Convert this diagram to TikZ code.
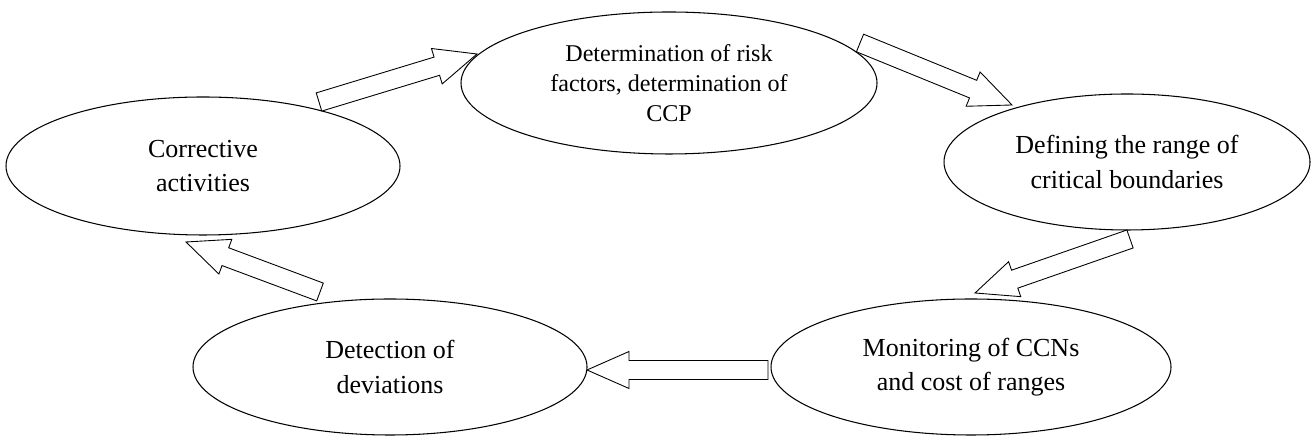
\documentclass[tikz,border=0pt]{standalone}
\usepackage{fontspec}
\setmainfont{Liberation Serif}
\usetikzlibrary{calc,shapes.geometric}

\begin{document}
\begin{tikzpicture}[
	stage/.style={draw,ellipse,line width=.6pt,inner sep=0pt,align=center,
		font=\fontsize{14.8}{19.5}\selectfont},
	blockarr/.style={draw,fill=white,line width=.5pt,line join=miter}]
	\useasboundingbox (0,0) rectangle (26.22,8.76);
	% the five stages of the cycle
	\node[stage,minimum width=8.32cm,minimum height=2.84cm,
		font=\fontsize{13.7}{17.2}\selectfont] (risk) at (13.38,7.10)
		{Determination of risk\\factors, determination of\\CCP};
	\node[stage,minimum width=7.32cm,minimum height=2.72cm] (limits) at (22.54,5.52)
		{Defining the range of\\critical boundaries};
	\node[stage,minimum width=8.00cm,minimum height=2.72cm] (monitor) at (19.42,1.42)
		{Monitoring of CCNs\\and cost of ranges};
	\node[stage,minimum width=7.88cm,minimum height=2.72cm] (detect) at (7.80,1.42)
		{Detection of\\deviations};
	\node[stage,minimum width=7.88cm,minimum height=2.76cm] (correct) at (4.06,5.44)
		{Corrective\\activities};
	% tails and tips of the block arrows
	\coordinate (a1s) at (6.38,6.72);  \coordinate (a1e) at (9.54,7.68);
	\coordinate (a2s) at (17.20,7.90); \coordinate (a2e) at (20.24,6.66);
	\coordinate (a3s) at (22.60,3.98); \coordinate (a3e) at (19.50,2.90);
	\coordinate (a4s) at (15.36,1.36); \coordinate (a4e) at (11.74,1.36);
	\coordinate (a5s) at (6.40,2.92);  \coordinate (a5e) at (3.72,3.92);
	% hollow arrows: shaft .38cm, head .74cm wide and .84cm long
	\foreach \s/\e in {a1s/a1e,a2s/a2e,a3s/a3e,a4s/a4e,a5s/a5e}{
		\coordinate (hb) at ($(\e)!.84cm!(\s)$);
		\draw[blockarr] ($(\s)!.19cm!90:(\e)$) -- ($(hb)!.19cm!90:(\e)$)
			-- ($(hb)!.37cm!90:(\e)$) -- (\e) -- ($(hb)!.37cm!-90:(\e)$)
			-- ($(hb)!.19cm!-90:(\e)$) -- ($(\s)!.19cm!-90:(\e)$) -- cycle;
	}
\end{tikzpicture}
\end{document}
